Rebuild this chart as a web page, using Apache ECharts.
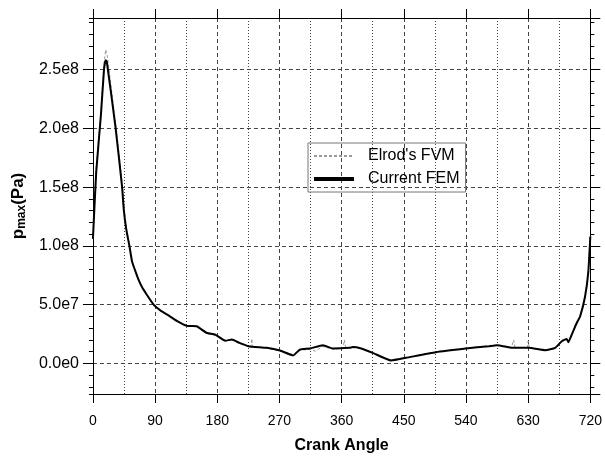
<!DOCTYPE html>
<html>
<head>
<meta charset="utf-8">
<script src="https://cdn.jsdelivr.net/npm/echarts@6/dist/echarts.min.js"></script>
<style>
  html, body { margin: 0; padding: 0; background: #fff; }
  #main { width: 605px; height: 459px; }
</style>
</head>
<body>
<div id="main"></div>
<script>
// crank angle (deg) and max pressure (Pa)
var femAngle = [0, 4.75, 11.5, 16, 18.3, 20, 32.7, 42.2, 44.6, 48, 52.8, 56.6, 60.5, 65.2, 71, 78.2, 87.8, 98, 109.4, 122, 135.8, 150.2,
    155.5, 165.2, 177.1, 191.5, 201.2, 212, 225.1, 251.6, 270.7, 289.9, 299.5, 313.9, 333.1, 347.5, 371.5,
    376.3, 388.4, 405, 431.6, 453.2, 496.4, 539.6, 573.1, 585.1, 606.7, 630.7, 654.8, 669.2, 678.7, 685.9,
    688.3, 693.1, 700.3, 705.2, 712.4, 717.1, 720];
var femP = [1.06e8, 1.63e8, 2.11e8, 2.50e8, 2.58e8, 2.57e8, 2.01e8, 1.50e8, 1.31e8, 1.15e8, 1.0e8, 8.67e7, 8.0e7, 7.24e7, 6.5e7, 5.83e7, 5.0e7, 4.5e7, 4.09e7, 3.6e7, 3.2e7, 3.16e7,
    2.96e7, 2.59e7, 2.45e7, 1.94e7, 2.03e7, 1.75e7, 1.47e7, 1.33e7, 1.1e7, 6.8e6, 1.18e7, 1.27e7, 1.55e7, 1.27e7, 1.33e7,
    1.39e7, 1.27e7, 9.0e6, 2.5e6, 4.8e6, 9.6e6, 1.27e7, 1.47e7, 1.55e7, 1.33e7, 1.33e7, 1.13e7, 1.33e7, 1.89e7, 2.09e7,
    1.81e7, 2.45e7, 3.44e7, 4.0e7, 5.7e7, 7.8e7, 1.08e8];

var fvmAngle = [0, 4.5, 11.5, 16, 18.5, 21, 33.5, 43, 45.5, 48.5, 53, 57, 61, 65.5, 71.5, 78, 88, 98.5, 109.4, 122, 136, 150,
    155.5, 165, 177, 191.5, 201, 212, 224, 229, 230, 231, 251.5, 270.7, 290, 299.5, 314, 322, 333, 347.5, 362, 364, 366,
    376, 388, 405, 431.6, 453, 496, 540, 573, 585, 606, 609, 611, 629, 630, 631.5, 655, 669, 679, 686,
    688, 693, 700, 705, 712.4, 717, 720];
var fvmP = [1.06e8, 1.65e8, 2.15e8, 2.55e8, 2.67e8, 2.61e8, 2.01e8, 1.50e8, 1.31e8, 1.15e8, 1.0e8, 8.6e7, 7.95e7, 7.2e7, 6.45e7, 5.8e7, 5.0e7, 4.48e7, 4.07e7, 3.57e7, 3.18e7, 3.14e7,
    2.9e7, 2.52e7, 2.38e7, 1.92e7, 2.0e7, 1.68e7, 1.45e7, 1.42e7, 2.1e7, 1.42e7, 1.3e7, 1.05e7, 7.5e6, 1.12e7, 1.2e7, 1.05e7, 1.45e7, 1.2e7, 1.3e7, 2.0e7, 1.3e7,
    1.35e7, 1.25e7, 9.0e6, 3.0e6, 5.0e6, 9.8e6, 1.3e7, 1.5e7, 1.58e7, 1.38e7, 2.0e7, 1.35e7, 1.35e7, 1.9e7, 1.33e7, 1.15e7, 1.33e7, 1.9e7, 2.1e7,
    1.8e7, 2.45e7, 3.44e7, 4.0e7, 5.7e7, 7.8e7, 1.08e8];

var xTicks = [0, 720, 90];        // min, max, step
var yRange = [-2.6e7, 2.94e8];

function pairs(xs, ys) {
    var out = [];
    for (var i = 0; i < xs.length; i++) {
        out.push([xs[i], ys[i]]);
    }
    return out;
}

function sciLabel(v) {
    if (Math.abs(v % 5e7) > 1) return '';
    if (v == 0) return '0.0e0';
    var e = Math.floor(Math.log10(Math.abs(v)));
    var m = v / Math.pow(10, e);
    return m.toFixed(1) + 'e' + e;
}

var font = 'Liberation Sans, Arial, sans-serif';
var gridDash = {color: '#444', width: 1, type: [4, 3]};

function yAx(pos, minor) {
    return {
        type: 'value',
        position: pos,
        min: yRange[0],
        max: yRange[1],
        splitNumber: minor ? 32 : 6,
        axisLine: {show: !minor, onZero: false, lineStyle: {color: '#000', width: 1}},
        axisTick: {show: true, length: minor ? 4 : 10, lineStyle: {color: '#000'}},
        axisLabel: {
            show: pos == 'left' && !minor,
            showMinLabel: false,
            showMaxLabel: false,
            formatter: sciLabel,
            margin: 14,
            fontSize: 16,
            color: '#000',
            fontFamily: font
        },
        splitLine: {show: pos == 'left' && !minor, lineStyle: gridDash}
    };
}

var myChart = echarts.init(document.getElementById('main'));
var options = {
    animation: false,
    backgroundColor: '#fff',
    grid: {left: 92, right: 13, top: 18, bottom: 62, containLabel: false},
    legend: {
        orient: 'vertical',
        left: 308,
        top: 143,
        padding: [5, 6, 5, 4],
        itemWidth: 40,
        itemHeight: 14,
        itemGap: 7,
        borderColor: '#777',
        borderWidth: 1,
        itemStyle: {opacity: 0},
        textStyle: {fontSize: 16, color: '#000', fontFamily: font, padding: [0, 0, 0, 9], lineHeight: 14},
        data: [
            {name: "Elrod's FVM"},
            {name: 'Current FEM', lineStyle: {width: 4}}
        ]
    },
    xAxis: [
        {
            type: 'value',
            position: 'bottom',
            min: xTicks[0],
            max: xTicks[1],
            interval: xTicks[2],
            name: 'Crank Angle',
            nameLocation: 'middle',
            nameGap: 44,
            nameTextStyle: {fontSize: 16, fontWeight: 'bold', color: '#000', fontFamily: font},
            axisLine: {onZero: false, lineStyle: {color: '#000', width: 1}},
            axisTick: {length: 9, lineStyle: {color: '#000'}},
            axisLabel: {fontSize: 14, color: '#000', margin: 20, fontFamily: font},
            splitLine: {show: true, lineStyle: gridDash},
            minorTick: {show: false, splitNumber: 2},
            minorSplitLine: {show: true, lineStyle: {color: '#444', width: 1, type: [1, 2]}}
        },
        {
            type: 'value',
            position: 'top',
            min: xTicks[0],
            max: xTicks[1],
            interval: xTicks[2],
            axisLine: {onZero: false, lineStyle: {color: '#000', width: 1}},
            axisTick: {length: 9, lineStyle: {color: '#000'}},
            axisLabel: {show: false},
            splitLine: {show: false}
        }
    ],
    yAxis: [
        Object.assign(yAx('left', false), {
            name: '{b|p}{s|max}{b|(Pa)}',
            nameLocation: 'middle',
            nameGap: 50,
            nameTextStyle: {
                color: '#000',
                fontFamily: font,
                rich: {
                    b: {fontSize: 17, fontWeight: 'bold', fontFamily: font, color: '#000'},
                    s: {fontSize: 12, fontWeight: 'bold', fontFamily: font, color: '#000', lineHeight: 12, padding: [8, 0, 0, 0]}
                }
            }
        }),
        yAx('left', true),
        yAx('right', false),
        yAx('right', true)
    ],
    series: [
        {
            name: "Elrod's FVM",
            type: 'line',
            symbol: 'none',
            data: pairs(fvmAngle, fvmP),
            lineStyle: {color: '#999', width: 1, type: [3, 2]},
            itemStyle: {color: '#999'},
            z: 2
        },
        {
            name: 'Current FEM',
            type: 'line',
            symbol: 'none',
            smooth: 0.15,
            data: pairs(femAngle, femP),
            lineStyle: {color: '#000', width: 2},
            itemStyle: {color: '#000'},
            z: 3
        }
    ]
};
myChart.setOption(options);
</script>
</body>
</html>
